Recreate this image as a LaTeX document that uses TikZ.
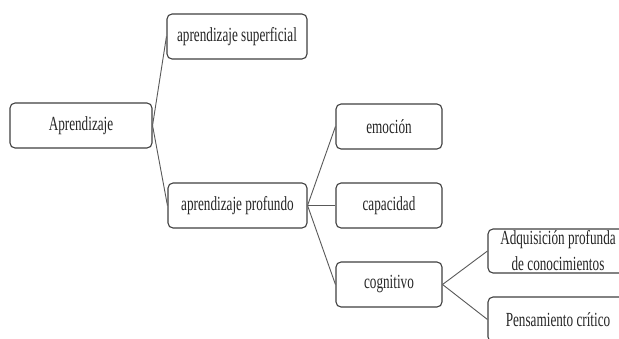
\documentclass[tikz,border=0pt]{standalone}
\usepackage{fontspec}
\setmainfont[FakeStretch=0.66]{Liberation Serif}
\begin{document}
\begin{tikzpicture}[x=1pt,y=-1pt,
  box/.style={draw=black!75, line width=1.1pt, rounded corners=5pt, fill=white,
    minimum width=140pt, minimum height=45pt, align=center, inner sep=2pt,
    font=\fontsize{20}{26}\selectfont, text=black!85},
  link/.style={draw=black!65, line width=0.9pt}]
\useasboundingbox (0,0) rectangle (619,338);
\clip (0,0) rectangle (619,338);
\fill[white] (0,0) rectangle (619,338);
\node[box, minimum width=142pt] (a) at (81,125.5) {Aprendizaje};
\node[box] (sup) at (237,36.5) {aprendizaje superficial};
\node[box, minimum width=139pt] (pro) at (237.5,205.5) {aprendizaje profundo};
\node[box, minimum width=106pt] (emo) at (389,126.5) {emoción};
\node[box, minimum width=106pt] (cap) at (389,205.5) {capacidad};
\node[box, minimum width=106pt] (cog) at (389,284.5) {cognitivo};
\node[box, minimum height=44pt, inner sep=0pt] (adq) at (558,251) {Adquisición profunda\\de conocimientos};
\node[box] (pen) at (558,319.5) {Pensamiento crítico};
\draw[link] (a.east) -- (sup.west);
\draw[link] (a.east) -- (pro.west);
\draw[link] (pro.east) -- (emo.west);
\draw[link] (pro.east) -- (cap.west);
\draw[link] (pro.east) -- (cog.west);
\draw[link] (cog.east) -- (adq.west);
\draw[link] (cog.east) -- (pen.west);
\end{tikzpicture}
\end{document}
